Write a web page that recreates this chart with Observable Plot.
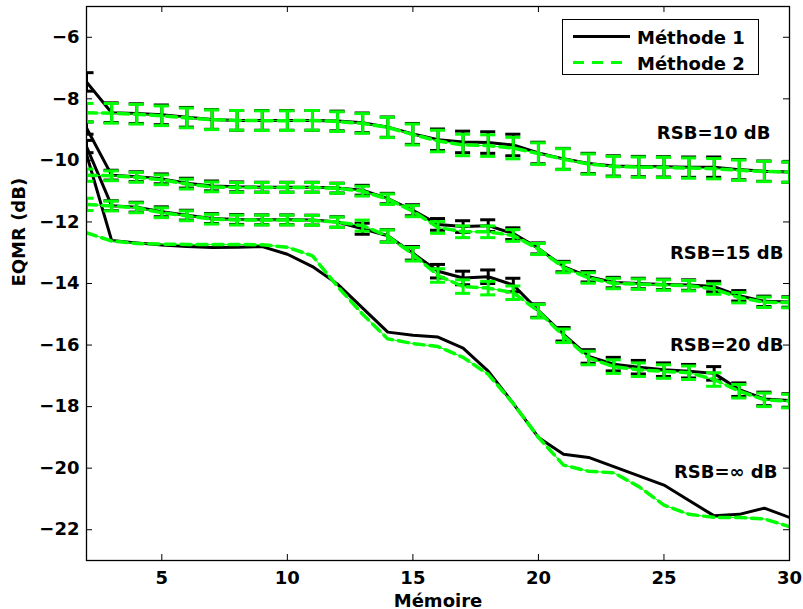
<!DOCTYPE html>
<html><head><meta charset="utf-8">
<script src="https://cdn.jsdelivr.net/npm/d3@7"></script>
<script src="https://cdn.jsdelivr.net/npm/@observablehq/plot@0.6"></script>
<style>
body{margin:0;background:#fff;}
#wrap{position:relative;width:803px;height:609px;font-family:"DejaVu Sans",sans-serif;}
#legend{position:absolute;left:562px;top:19px;width:197px;height:56px;border:1px solid #000;background:#fff;box-sizing:border-box;}
#legend svg{position:absolute;left:0;top:0;}
</style></head><body><div id="wrap"></div>
<script>
// Mémoire (x) values
const memoire = [2,3,4,5,6,7,8,9,10,11,12,13,14,15,16,17,18,19,20,21,22,23,24,25,26,27,28,29,30];

// RSB = 10 dB
const m1_rsb10 = [-7.45,-8.45,-8.48,-8.52,-8.60,-8.67,-8.70,-8.70,-8.70,-8.70,-8.72,-8.78,-8.92,-9.14,-9.33,-9.40,-9.42,-9.50,-9.76,-9.95,-10.10,-10.18,-10.20,-10.21,-10.22,-10.22,-10.30,-10.35,-10.38];
const m2_rsb10 = [-8.45,-8.47,-8.50,-8.55,-8.62,-8.68,-8.70,-8.71,-8.71,-8.70,-8.74,-8.80,-8.93,-9.16,-9.37,-9.50,-9.52,-9.60,-9.78,-9.96,-10.12,-10.20,-10.22,-10.23,-10.25,-10.27,-10.32,-10.36,-10.38];
const err_rsb10 = [0.30,0.32,0.32,0.32,0.32,0.32,0.32,0.32,0.32,0.32,0.32,0.32,0.33,0.34,0.35,0.35,0.35,0.35,0.35,0.34,0.33,0.33,0.33,0.33,0.33,0.33,0.33,0.33,0.33];

// RSB = 15 dB
const m1_rsb15 = [-8.95,-10.48,-10.53,-10.60,-10.74,-10.83,-10.86,-10.87,-10.87,-10.87,-10.90,-10.97,-11.24,-11.62,-12.08,-12.15,-12.12,-12.38,-12.86,-13.45,-13.78,-13.97,-14.00,-14.03,-14.05,-14.10,-14.40,-14.58,-14.60];
const m2_rsb15 = [-10.48,-10.50,-10.55,-10.63,-10.77,-10.86,-10.88,-10.88,-10.88,-10.88,-10.91,-11.00,-11.26,-11.65,-12.18,-12.32,-12.32,-12.44,-12.88,-13.48,-13.82,-14.00,-14.02,-14.05,-14.07,-14.18,-14.46,-14.61,-14.62];
const err_rsb15 = [0.20,0.16,0.16,0.16,0.16,0.16,0.16,0.16,0.16,0.16,0.16,0.16,0.17,0.18,0.19,0.19,0.19,0.19,0.18,0.17,0.17,0.17,0.17,0.17,0.17,0.17,0.17,0.17,0.17];

// RSB = 20 dB
const m1_rsb20 = [-9.55,-11.47,-11.52,-11.67,-11.78,-11.89,-11.92,-11.93,-11.93,-11.94,-12.00,-12.22,-12.45,-13.02,-13.60,-13.82,-13.78,-14.05,-14.88,-15.65,-16.37,-16.62,-16.72,-16.80,-16.85,-16.92,-17.45,-17.75,-17.80];
const m2_rsb20 = [-11.43,-11.48,-11.54,-11.70,-11.80,-11.91,-11.94,-11.94,-11.94,-11.95,-12.01,-12.12,-12.46,-13.05,-13.74,-14.10,-14.15,-14.30,-14.90,-15.70,-16.42,-16.70,-16.80,-16.86,-16.90,-17.12,-17.50,-17.78,-17.82];
const err_rsb20 = [0.20,0.16,0.16,0.16,0.16,0.16,0.16,0.16,0.16,0.16,0.17,0.18,0.20,0.22,0.22,0.22,0.22,0.22,0.22,0.22,0.22,0.22,0.22,0.22,0.22,0.22,0.22,0.22,0.22];

// RSB = infinity
const m1_rsbInf = [-9.80,-12.60,-12.68,-12.75,-12.80,-12.83,-12.82,-12.80,-13.05,-13.45,-14.02,-14.80,-15.58,-15.68,-15.74,-16.10,-16.85,-17.90,-19.00,-19.55,-19.65,-19.95,-20.25,-20.55,-21.05,-21.55,-21.50,-21.30,-21.60];
const m2_rsbInf = [-12.35,-12.62,-12.70,-12.72,-12.73,-12.73,-12.73,-12.74,-12.82,-13.10,-14.10,-15.00,-15.80,-15.95,-16.05,-16.40,-16.95,-17.90,-19.00,-19.90,-20.10,-20.15,-20.60,-21.20,-21.50,-21.60,-21.60,-21.65,-21.90];

// Axis ticks
const xTicks = [5,10,15,20,25,30];
const yTicks = [-22,-20,-18,-16,-14,-12,-10,-8,-6];

// Curve labels
const labelText = ["RSB=10 dB","RSB=15 dB","RSB=20 dB","RSB=\u221e dB"];
const labelX = [29.24,29.76,29.76,29.52];
const labelY = [-9.12,-13.02,-16.01,-20.13];

const methodNames = ["Méthode 1","Méthode 2"];

function rows(ys, errs, rsb){
  return memoire.map((x,i)=>({x, y: ys[i], err: errs ? errs[i] : null, rsb}));
}
const m1Series = [rows(m1_rsb10,err_rsb10,"10"), rows(m1_rsb15,err_rsb15,"15"), rows(m1_rsb20,err_rsb20,"20"), rows(m1_rsbInf,null,"inf")];
const m2Series = [rows(m2_rsb10,err_rsb10,"10"), rows(m2_rsb15,err_rsb15,"15"), rows(m2_rsb20,err_rsb20,"20"), rows(m2_rsbInf,null,"inf")];
const m1All = m1Series.flat();
const m2All = m2Series.flat();
const m1Err = m1All.filter(d=>d.err!=null);
const m2Err = m2All.filter(d=>d.err!=null);
const labels = labelText.map((t,i)=>({t, x: labelX[i], y: labelY[i]}));

const W = 803, H = 609, mL = 86, mR = 14, mT = 6, mB = 49;
const innerW = W - mL - mR, innerH = H - mT - mB;
const black = "#000000", green = "#00ff00";
const capHalf = 0.3;

function errMarks(data, color){
  return [
    Plot.ruleX(data, {x:"x", y1: d=>d.y-d.err, y2: d=>d.y+d.err, stroke: color, strokeWidth: 3, clip: true}),
    Plot.ruleY(data, {y: d=>d.y+d.err, x1: d=>d.x-capHalf, x2: d=>d.x+capHalf, stroke: color, strokeWidth: 3, clip: true}),
    Plot.ruleY(data, {y: d=>d.y-d.err, x1: d=>d.x-capHalf, x2: d=>d.x+capHalf, stroke: color, strokeWidth: 3, clip: true})
  ];
}

const chart = Plot.plot({
  width: W, height: H,
  marginLeft: mL, marginRight: mR, marginTop: mT, marginBottom: mB,
  style: {fontFamily: "'DejaVu Sans', sans-serif", fontWeight: "bold", fontSize: "18px", background: "#fff", color: "#000"},
  x: {domain: [2,30]},
  y: {domain: [-23,-5]},
  marks: [
    Plot.axisX({ticks: xTicks, tickSize: 0, tickPadding: 11, fontSize: 18, fontWeight: "bold", label: null}),
    Plot.axisY({ticks: yTicks, tickSize: 0, tickPadding: 7, fontSize: 18, fontWeight: "bold", label: null}),
    // inward ticks on all four sides
    Plot.ruleX(xTicks, {x: d=>d, insetTop: innerH - 6, stroke: black, strokeWidth: 1}),
    Plot.ruleX(xTicks, {x: d=>d, insetBottom: innerH - 6, stroke: black, strokeWidth: 1}),
    Plot.ruleY(yTicks, {y: d=>d, insetRight: innerW - 6, stroke: black, strokeWidth: 1}),
    Plot.ruleY(yTicks, {y: d=>d, insetLeft: innerW - 6, stroke: black, strokeWidth: 1}),
    // Méthode 1
    Plot.line(m1All, {x:"x", y:"y", z:"rsb", stroke: black, strokeWidth: 3, clip: true}),
    ...errMarks(m1Err, black),
    // Méthode 2
    Plot.line(m2All, {x:"x", y:"y", z:"rsb", stroke: green, strokeWidth: 1, clip: true}),
    Plot.line(m2All, {x:"x", y:"y", z:"rsb", stroke: green, strokeWidth: 3.5, strokeDasharray: "10,6", clip: true}),
    ...errMarks(m2Err, green),
    Plot.text(labels, {x:"x", y:"y", text:"t", textAnchor:"end", fontSize: 18, fontWeight:"bold", fill: black}),
    Plot.text(["Mémoire"], {frameAnchor: "bottom", text: d=>d, lineAnchor: "bottom", dy: 46, fontSize: 18, fontWeight: "bold"}),
    Plot.text(["EQMR (dB)"], {frameAnchor: "left", text: d=>d, rotate: -90, dx: -67, dy: 3, fontSize: 18, fontWeight: "bold"}),
    Plot.frame({stroke: black, strokeWidth: 1.3})
  ]
});

const wrap = document.getElementById("wrap");
wrap.appendChild(chart);

// Legend overlay
const leg = document.createElement("div");
leg.id = "legend";
const ns = "http://www.w3.org/2000/svg";
const lsvg = document.createElementNS(ns, "svg");
lsvg.setAttribute("width", 197); lsvg.setAttribute("height", 56);
const legStyles = [{stroke: black, dash: null}, {stroke: green, dash: "11,8"}];
methodNames.forEach((name, i) => {
  const yy = 16.5 + i * 26;
  const ln = document.createElementNS(ns, "line");
  ln.setAttribute("x1", 10); ln.setAttribute("x2", 67);
  ln.setAttribute("y1", yy); ln.setAttribute("y2", yy);
  ln.setAttribute("stroke", legStyles[i].stroke);
  ln.setAttribute("stroke-width", 3);
  if (legStyles[i].dash) ln.setAttribute("stroke-dasharray", legStyles[i].dash);
  lsvg.appendChild(ln);
  const tx = document.createElementNS(ns, "text");
  tx.setAttribute("x", 74); tx.setAttribute("y", yy + 7);
  tx.setAttribute("font-family", "DejaVu Sans, sans-serif");
  tx.setAttribute("font-size", 18); tx.setAttribute("font-weight", "bold");
  tx.textContent = name;
  lsvg.appendChild(tx);
});
leg.appendChild(lsvg);
wrap.appendChild(leg);
</script>
</body></html>
